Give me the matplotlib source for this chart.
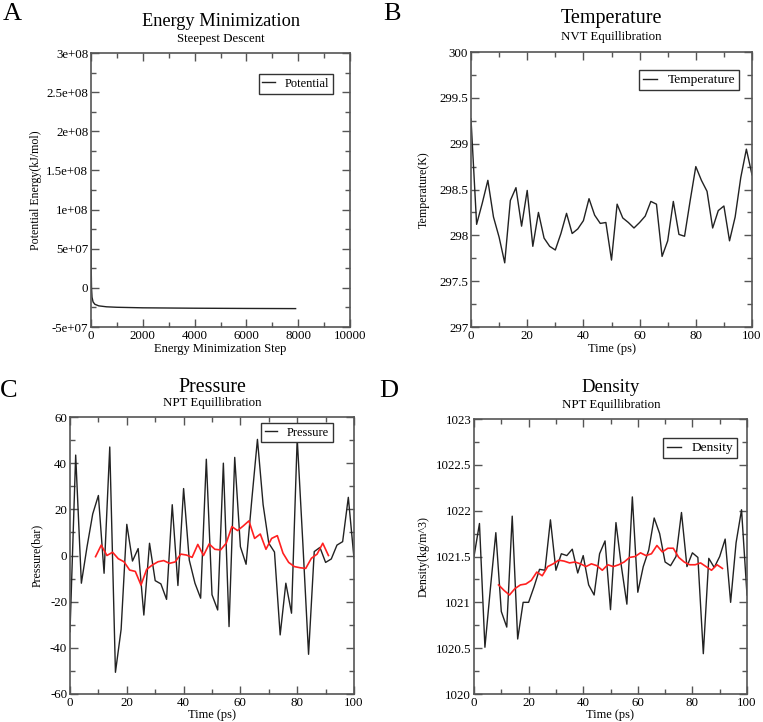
import matplotlib
matplotlib.use("Agg")
import matplotlib.pyplot as plt
from matplotlib.ticker import MultipleLocator, FormatStrFormatter

plt.rcParams["font.family"] = ["Liberation Serif", "DejaVu Serif"]
plt.rcParams["axes.unicode_minus"] = False

W, H = 763, 722

# --- data ---
em_step = [0, 5, 10, 20, 40, 80, 150, 300, 600, 1000, 2000, 4000, 6000, 7900]
em_pot = [1.25e8, 6e7, 2e7, 0, -1.2e7, -1.8e7, -2.1e7, -2.3e7, -2.42e7, -2.48e7,
          -2.55e7, -2.6e7, -2.63e7, -2.65e7]

time_ps = list(range(0, 101, 2))
temperature = [299.27, 298.12, 298.35, 298.6, 298.2, 297.98, 297.7, 298.38, 298.52, 298.1,
               298.49, 297.88, 298.25, 297.97, 297.88, 297.84, 298.02, 298.24, 298.02, 298.07,
               298.16, 298.4, 298.22, 298.13, 298.14, 297.73, 298.34, 298.19, 298.14, 298.08,
               298.14, 298.21, 298.37, 298.34, 297.77, 297.94, 298.37, 298.01, 297.99, 298.38,
               298.75, 298.6, 298.48, 298.08, 298.27, 298.32, 297.94, 298.2, 298.63, 298.94,
               298.66]
pressure = [-33, 43.5, -12, 3.8, 18, 26, -7.7, 47, -50.6, -32,
            13.5, -2.4, 3, -25.8, 5.3, -10.9, -12.3, -19, 22, -13,
            29, -2, -12, -18.5, 41.7, -17, -23.6, 40, -30.8, 42.5,
            3.8, -3.8, 24, 50.3, 22, 5.3, 1.5, -34.4, -12, -25,
            50.8, 5, -42.8, 1.7, 3.5, -3, -1.5, 4.5, 6, 25.2,
            -1.2]
density = [1021.5, 1021.86, 1020.51, 1021.15, 1021.76, 1020.9, 1020.73, 1021.94, 1020.6, 1021.0,
           1021.0, 1021.17, 1021.36, 1021.35, 1021.9, 1021.35, 1021.53, 1021.51, 1021.58, 1021.32,
           1021.51, 1021.19, 1021.08, 1021.53, 1021.67, 1020.92, 1021.87, 1021.39, 1020.98, 1022.15,
           1021.11, 1021.39, 1021.57, 1021.92, 1021.75, 1021.44, 1021.4, 1021.5, 1021.98, 1021.39,
           1021.54, 1021.49, 1020.44, 1021.48, 1021.38, 1021.5, 1021.69, 1021.0, 1021.65, 1022.01,
           1021.08]

avg_time = list(range(9, 92, 2))
pressure_avg = [-0.5, 4.5, 0, 1.4, -1.4, -2.7, -6.3, -6.9, -12.8, -6,
                -4.1, -2.7, -2.2, -3.4, -2.8, 0.6, 0.2, -0.8, 4.8, 0,
                5, 2.7, 2.4, 5.3, 12.5, 10.8, 12.8, 15, 7.4, 9.3,
                2.7, 7.4, 8.6, 1, -3, -4.8, -5.3, -5.6, -1.2, 0.6,
                5.3, 0]
density_avg = [1021.19, 1021.13, 1021.08, 1021.15, 1021.19, 1021.2, 1021.24, 1021.33, 1021.29, 1021.39,
               1021.42, 1021.46, 1021.45, 1021.43, 1021.44, 1021.42, 1021.39, 1021.42, 1021.4, 1021.35,
               1021.41, 1021.39, 1021.41, 1021.44, 1021.49, 1021.5, 1021.54, 1021.51, 1021.53, 1021.62,
               1021.55, 1021.59, 1021.59, 1021.49, 1021.44, 1021.41, 1021.41, 1021.43, 1021.39, 1021.35,
               1021.41, 1021.37]


def fx(px):
    return px / W


def fy(py):
    return 1 - py / H


def make_axes(fig, x0, y0, x1, y1, tick_size=9.3):
    ax = fig.add_axes([fx(x0), fy(y1), (x1 - x0) / W, (y1 - y0) / H])
    for s in ax.spines.values():
        s.set_color("#555555")
        s.set_linewidth(1.2)
    ax.tick_params(which="both", direction="in", top=True, right=True,
                   labelsize=tick_size, pad=2, color="#555555")
    ax.tick_params(which="major", length=6, width=1)
    ax.tick_params(which="minor", length=3.5, width=1)
    return ax


def panel_text(fig, ax, letter, lx, ly, title, tsize, tx, ty, sub, sy,
               xlabel, xly, ylabel, ylx):
    fig.text(fx(lx), fy(ly), letter, fontsize=19, ha="left", va="center")
    fig.text(fx(tx), fy(ty), title, fontsize=tsize, ha="center", va="center")
    fig.text(fx(tx), fy(sy), sub, fontsize=9.3, ha="center", va="center")
    pos = ax.get_position()
    fig.text((pos.x0 + pos.x1) / 2, fy(xly), xlabel, fontsize=9, ha="center", va="center")
    fig.text(fx(ylx), (pos.y0 + pos.y1) / 2, ylabel, fontsize=8.6, ha="center",
             va="center", rotation=90)


def add_legend(ax, fig, rx, ty, size=9):
    ax.legend(loc="upper right", bbox_to_anchor=(fx(rx), fy(ty)),
              bbox_transform=fig.transFigure, fontsize=size, frameon=True,
              fancybox=False, edgecolor="#333333", framealpha=1,
              handlelength=1.0, handletextpad=0.8, borderpad=0.3,
              borderaxespad=0)


fig = plt.figure(figsize=(W / 100, H / 100), dpi=100)

# A: energy minimization
axA = make_axes(fig, 91, 53, 350, 327)
axA.plot(em_step, em_pot, color="#222222", lw=1.0, label="Potential")
axA.set_xlim(0, 10000)
axA.set_ylim(-5e7, 3e8)
axA.xaxis.set_major_locator(MultipleLocator(2000))
axA.xaxis.set_minor_locator(MultipleLocator(1000))
axA.yaxis.set_major_locator(MultipleLocator(5e7))
axA.yaxis.set_minor_locator(MultipleLocator(2.5e7))
axA.yaxis.set_major_formatter(FormatStrFormatter("%g"))
axA.xaxis.set_major_formatter(FormatStrFormatter("%g"))
add_legend(axA, fig, 333, 74)
panel_text(fig, axA, "A", 3, 14, "Energy Minimization", 13.2, 221, 22, "Steepest Descent", 39,
           "Energy Minimization Step", 349, "Potential Energy(kJ/mol)", 36)

# B: temperature
axB = make_axes(fig, 471, 52, 752, 327)
axB.plot(time_ps, temperature, color="#222222", lw=1.0, label="Temperature")
axB.set_xlim(0, 100)
axB.set_ylim(297, 300)
axB.xaxis.set_major_locator(MultipleLocator(20))
axB.xaxis.set_minor_locator(MultipleLocator(10))
axB.yaxis.set_major_locator(MultipleLocator(0.5))
axB.yaxis.set_minor_locator(MultipleLocator(0.25))
axB.yaxis.set_major_formatter(FormatStrFormatter("%g"))
add_legend(axB, fig, 739, 70, size=9.6)
panel_text(fig, axB, "B", 383, 14, "Temperature", 14.5, 611, 19, "NVT Equillibration", 37,
           "Time (ps)", 349, "Temperature(K)", 424)

# C: pressure
axC = make_axes(fig, 70, 417, 354, 694)
axC.plot(time_ps, pressure, color="#222222", lw=1.0, label="Pressure")
axC.plot(avg_time, pressure_avg, color="#ff2020", lw=1.2)
axC.set_xlim(0, 100)
axC.set_ylim(-60, 60)
axC.xaxis.set_major_locator(MultipleLocator(20))
axC.xaxis.set_minor_locator(MultipleLocator(10))
axC.yaxis.set_major_locator(MultipleLocator(20))
axC.yaxis.set_minor_locator(MultipleLocator(10))
add_legend(axC, fig, 333, 423)
panel_text(fig, axC, "C", 0, 391, "Pressure", 14.4, 212, 388, "NPT Equillibration", 403,
           "Time (ps)", 715, "Pressure(bar)", 37)

# D: density
axD = make_axes(fig, 474, 419, 747, 694)
axD.plot(time_ps, density, color="#222222", lw=1.0, label="Density")
axD.plot(avg_time, density_avg, color="#ff2020", lw=1.2)
axD.set_xlim(0, 100)
axD.set_ylim(1020, 1023)
axD.xaxis.set_major_locator(MultipleLocator(20))
axD.xaxis.set_minor_locator(MultipleLocator(10))
axD.yaxis.set_major_locator(MultipleLocator(0.5))
axD.yaxis.set_minor_locator(MultipleLocator(0.25))
axD.yaxis.set_major_formatter(FormatStrFormatter("%g"))
add_legend(axD, fig, 737, 438, size=9.6)
panel_text(fig, axD, "D", 379, 391, "Density", 13.5, 611, 387, "NPT Equillibration", 405,
           "Time (ps)", 715, "Density(kg/m^3)", 424)

fig.savefig("out.png", dpi=100)
